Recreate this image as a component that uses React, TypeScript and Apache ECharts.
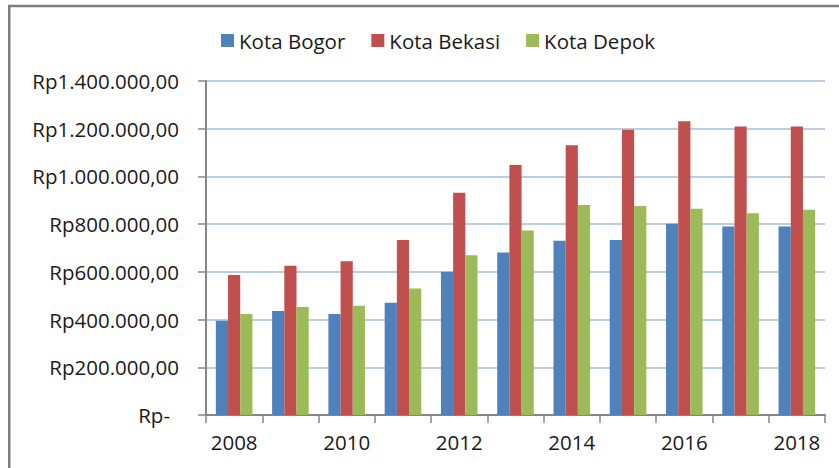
import React, { useEffect, useRef } from "react";
import * as echarts from "echarts";

const years = ["2008", "2009", "2010", "2011", "2012", "2013", "2014", "2015", "2016", "2017", "2018"];
const kotaBogor = [395000, 436000, 423000, 470000, 600000, 681000, 730000, 734000, 802000, 790000, 790000];
const kotaBekasi = [587000, 626000, 644000, 734000, 932000, 1048000, 1131000, 1196000, 1231000, 1209000, 1209000];
const kotaDepok = [423000, 453000, 458000, 530000, 670000, 773000, 880000, 876000, 864000, 846000, 860000];
const seriesNames = ["Kota Bogor", "Kota Bekasi", "Kota Depok"];
const colors = ["#4F81BD", "#C0504D", "#9BBB59"];

const FONT = "Open Sans";

function formatRp(v: number): string {
  if (v === 0) return "{z|Rp-}";
  const s = String(Math.round(v)).replace(/\B(?=(\d{3})+(?!\d))/g, ".");
  return "Rp" + s + ",00";
}

export default function App() {
  const ref = useRef<HTMLDivElement>(null);
  useEffect(() => {
    if (!ref.current) return;
    const chart = echarts.init(ref.current, undefined, { renderer: "svg" });
    const data = [kotaBogor, kotaBekasi, kotaDepok];
    chart.setOption({
      animation: false,
      backgroundColor: "#ffffff",
      textStyle: { fontFamily: FONT },
      graphic: [
        {
          type: "rect",
          shape: { x: 9.25, y: 6, width: 1000, height: 1000 },
          style: { fill: "none", stroke: "#7f7f7f", lineWidth: 2.5 },
          silent: true,
        },
      ],
      legend: {
        data: seriesNames,
        left: 216,
        top: 25,
        itemWidth: 13,
        itemHeight: 13,
        itemGap: 26,
        icon: "rect",
        textStyle: { fontFamily: FONT, fontSize: 20.5, color: "#1a1a1a" },
      },
      grid: { left: 206, right: 14, top: 81, bottom: 53, containLabel: false },
      xAxis: {
        type: "category",
        data: years,
        boundaryGap: true,
        axisLine: { lineStyle: { color: "#868686", width: 2 } },
        axisTick: { show: true, length: 8, inside: false, alignWithLabel: false, interval: 0, lineStyle: { color: "#868686", width: 1.5 } },
        axisLabel: { interval: 1, margin: 16, fontFamily: FONT, fontSize: 20.5, color: "#1a1a1a" },
      },
      yAxis: {
        type: "value",
        min: 0,
        max: 1400000,
        interval: 200000,
        axisLine: { show: true, lineStyle: { color: "#868686", width: 2 } },
        axisTick: { show: true, length: 8, inside: false, lineStyle: { color: "#868686", width: 1.5 } },
        splitLine: { show: true, lineStyle: { color: "#b9cde5", width: 2 } },
        axisLabel: {
          margin: 27,
          fontFamily: FONT,
          fontSize: 20.5,
          color: "#1a1a1a",
          formatter: formatRp,
          rich: { z: { fontFamily: FONT, fontSize: 20.5, color: "#1a1a1a", padding: [0, 9, 0, 0] } },
        },
      },
      series: seriesNames.map((name, i) => ({
        name,
        type: "bar",
        data: data[i],
        barGap: "0%",
        barCategoryGap: "35%",
        itemStyle: { color: colors[i] },
      })),
    });
    return () => chart.dispose();
  }, []);
  return (
    <div
      ref={ref}
      style={{ position: "fixed", left: 0, top: 0, width: 839, height: 468 }}
    />
  );
}
